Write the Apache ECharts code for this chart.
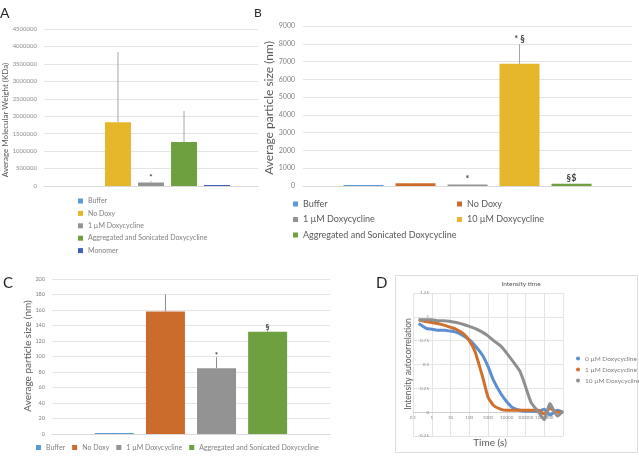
<!DOCTYPE html>
<html><head><meta charset="utf-8">
<script src="https://cdn.jsdelivr.net/npm/echarts@6.0.0/dist/echarts.min.js"></script>
<style>
html,body{margin:0;padding:0;background:#fff;width:639px;height:458px;overflow:hidden;}
.p{position:absolute;left:0;top:0;width:639px;height:458px;}
</style></head><body>
<div id="pa" class="p"></div><div id="pb" class="p"></div><div id="pc" class="p"></div><div id="pd" class="p"></div>
<script>
// ---------- DATA ----------
// Panel A
const aCategory = [''];
const aNames = ['Buffer', 'No Doxy', '1 µM Doxycycline', 'Aggregated and Sonicated Doxycycline', 'Monomer'];
const aValues = [0, 1830000, 100000, 1260000, 15000];
const aErrors = [0, 2010000, 40000, 890000, 0];
const aMarks = ['', '', '*', '', ''];
const aColors = ['#5b9bd5', '#e6b72b', '#939393', '#6ea040', '#3f5fb8'];
// Panel B
const bCategory = [''];
const bNames = ['Buffer', 'No Doxy', '1 µM Doxycycline', '10 µM Doxycycline', 'Aggregated and Sonicated Doxycycline'];
const bValues = [1, 158, 85, 6870, 132];
const bErrors = [0, 22, 14, 1110, 4];
const bMarks = ['', '', '*', '* §', '§$'];
const bColors = ['#5b9bd5', '#cc6c2c', '#939393', '#e6b72b', '#6ea040'];
// Panel C
const cCategory = [''];
const cNames = ['Buffer', 'No Doxy', '1 µM Doxycycline', 'Aggregated and Sonicated Doxycycline'];
const cValues = [1, 158, 85, 132];
const cErrors = [0.5, 22, 14, 3];
const cMarks = ['', '', '*', '§'];
const cColors = ['#5b9bd5', '#cc6c2c', '#939393', '#6ea040'];
// Panel D (time axis, log scale)
const dTime = [0.2, 0.5, 1, 2, 5, 10, 20, 50, 100, 200, 500, 1000, 2000, 5000, 10000, 20000, 50000, 100000, 200000, 500000, 1000000, 2000000, 5000000, 10000000];
const d0uM  = [0.93, 0.88, 0.87, 0.86, 0.86, 0.85, 0.84, 0.80, 0.76, 0.70, 0.60, 0.48, 0.33, 0.19, 0.11, 0.05, 0.02, 0.01, 0.01, 0.01, 0.03, -0.03, 0.02, 0.0];
const d1uM  = [0.97, 0.95, 0.94, 0.93, 0.91, 0.89, 0.87, 0.82, 0.75, 0.64, 0.38, 0.16, 0.07, 0.03, 0.02, 0.02, 0.02, 0.02, 0.02, 0.02, -0.02, 0.04, 0.0, 0.0];
const d10uM = [0.97, 0.97, 0.97, 0.96, 0.96, 0.95, 0.94, 0.92, 0.90, 0.88, 0.84, 0.80, 0.75, 0.69, 0.62, 0.54, 0.43, 0.27, 0.10, 0.0, -0.08, 0.09, -0.04, 0.01];
const dNames = ['0 µM Doxycycline', '1 µM Doxycycline', '10 µM Doxycycline'];
const dColors = ['#5b8fd0', '#d0702c', '#8f8f8f'];

// ---------- HELPERS ----------
const FONT = 'Lato';
function barSeries(names, values, colors, bw, gap) {
  return names.map((n, i) => ({
    type: 'bar', name: n, data: [values[i]], barWidth: bw, barGap: gap, barMinHeight: values[i] > 0 ? 1 : 0,
    itemStyle: { color: colors[i] }, silent: true
  }));
}
function errSeries(values, errors, marks, bw, gapFrac, o) {
  const n = values.length;
  const data = values.map((v, i) => [0, v, v + errors[i], i]);
  return {
    type: 'custom', silent: true, z: 10, data: data, encode: { x: 0, y: [1, 2] },
    renderItem: function (params, api) {
      const i = api.value(3);
      const p0 = api.coord([0, api.value(1)]);
      const p1 = api.coord([0, api.value(2)]);
      const step = bw * (1 + gapFrac);
      const x = p0[0] + (i - (n - 1) / 2) * step;
      const ch = [];
      if (errors[i] > 0) ch.push({ type: 'line', shape: { x1: x, y1: p0[1], x2: x, y2: p1[1] }, style: { stroke: o.color, lineWidth: 1 } });
      if (marks[i]) ch.push({ type: 'text', style: { text: marks[i], x: x, y: p1[1] - o.markGap, align: 'center', verticalAlign: 'bottom', fontSize: o.markSize, fontFamily: FONT, fill: '#3a3a3a', fontWeight: 'bold' } });
      return { type: 'group', children: ch };
    }
  };
}
function label(text, x, y, size) {
  return { type: 'text', x: x, y: y, style: { text: text, fontSize: size, fontFamily: FONT, fill: '#262626', align: 'left', verticalAlign: 'top' } };
}
function vtitle(text, x, y, size) {
  return { type: 'text', x: x, y: y, rotation: Math.PI / 2, style: { text: text, fontSize: size, fontFamily: FONT, fill: '#595959', align: 'center', verticalAlign: 'middle' } };
}
const num = v => String(v);

// ---------- PANEL A ----------
const chA = echarts.init(document.getElementById('pa'), null, { renderer: 'canvas' });
chA.setOption({
  animation: false, textStyle: { fontFamily: FONT },
  grid: { left: 44, top: 29, width: 214, height: 157, outerBoundsMode: 'none' },
  xAxis: { type: 'category', data: aCategory, axisLine: { lineStyle: { color: '#d9d9d9' } }, axisTick: { show: false }, axisLabel: { show: false } },
  yAxis: { type: 'value', min: 0, max: 4500000, interval: 500000, axisLine: { show: false }, axisTick: { show: false },
    axisLabel: { fontSize: 6, color: '#8c8c8c', margin: 7, formatter: num }, splitLine: { lineStyle: { color: '#e4e4e4' } } },
  legend: { orient: 'vertical', left: 73, top: 192, itemWidth: 5, itemHeight: 5, itemGap: 4.4, icon: 'rect',
    textStyle: { fontSize: 7, color: '#808080', lineHeight: 8, fontFamily: FONT }, data: aNames, selectedMode: false },
  series: barSeries(aNames, aValues, aColors, 26, '27%').concat([errSeries(aValues, aErrors, aMarks, 26, 0.27, { color: '#a6a6a6', markGap: 0, markSize: 8 })]),
  graphic: [label('A', 0, 6, 14), vtitle('Average Molecular Weight (KDa)', 5, 120, 8)]
});

// ---------- PANEL B ----------
const chB = echarts.init(document.getElementById('pb'));
chB.setOption({
  animation: false, textStyle: { fontFamily: FONT },
  grid: { left: 303, top: 26, width: 329, height: 160, outerBoundsMode: 'none' },
  xAxis: { type: 'category', data: bCategory, axisLine: { lineStyle: { color: '#d9d9d9' } }, axisTick: { show: false }, axisLabel: { show: false } },
  yAxis: { type: 'value', min: 0, max: 9000, interval: 1000, axisLine: { show: false }, axisTick: { show: false },
    axisLabel: { fontSize: 7, color: '#808080', margin: 8, formatter: num }, splitLine: { lineStyle: { color: '#e4e4e4' } } },
  legend: [
    { orient: 'vertical', left: 288, top: 194, itemWidth: 5, itemHeight: 5, itemGap: 5.5, icon: 'rect', selectedMode: false,
      textStyle: { fontSize: 9, color: '#595959', lineHeight: 10, fontFamily: FONT }, data: [bNames[0], bNames[2], bNames[4]] },
    { orient: 'vertical', left: 452, top: 194, itemWidth: 5, itemHeight: 5, itemGap: 5.5, icon: 'rect', selectedMode: false,
      textStyle: { fontSize: 9, color: '#595959', lineHeight: 10, fontFamily: FONT }, data: [bNames[1], bNames[3]] }
  ],
  series: barSeries(bNames, bValues, bColors, 40, '30%').concat([errSeries(bValues, bErrors, bMarks, 40, 0.30, { color: '#a6a6a6', markGap: 1, markSize: 9 })]),
  graphic: [label('B', 254, 7, 12), vtitle('Average particle size (nm)', 269, 108, 12)]
});

// ---------- PANEL C ----------
const chC = echarts.init(document.getElementById('pc'));
chC.setOption({
  animation: false, textStyle: { fontFamily: FONT },
  grid: { left: 52, top: 279, width: 278, height: 155, outerBoundsMode: 'none' },
  xAxis: { type: 'category', data: cCategory, axisLine: { lineStyle: { color: '#d9d9d9' } }, axisTick: { show: false }, axisLabel: { show: false } },
  yAxis: { type: 'value', min: 0, max: 200, interval: 20, axisLine: { show: false }, axisTick: { show: false },
    axisLabel: { fontSize: 5.5, color: '#808080', margin: 7, formatter: num }, splitLine: { lineStyle: { color: '#e4e4e4' } } },
  legend: { orient: 'horizontal', left: 31, top: 439, itemWidth: 5, itemHeight: 5, itemGap: 7, icon: 'rect', selectedMode: false,
    textStyle: { fontSize: 7, color: '#808080', fontFamily: FONT }, data: cNames },
  series: barSeries(cNames, cValues, cColors, 39, '31%').concat([errSeries(cValues, cErrors, cMarks, 39, 0.31, { color: '#8c8c8c', markGap: -2, markSize: 8 })]),
  graphic: [label('C', 3, 276, 15), vtitle('Average particle size (nm)', 28, 356, 10)]
});

// ---------- PANEL D ----------
const chD = echarts.init(document.getElementById('pd'));
const dSeriesVals = [d0uM, d1uM, d10uM];
chD.setOption({
  animation: false, textStyle: { fontFamily: FONT },
  grid: { left: 413, top: 293, width: 150, height: 143, outerBoundsMode: 'none' },
  xAxis: { type: 'log', logBase: 10, min: 0.1, max: 10000000, offset: -23.8,
    axisLine: { onZero: false, lineStyle: { color: '#cfcfcf' } }, axisTick: { show: false },
    axisLabel: { fontSize: 4.5, color: '#8c8c8c', margin: 3, formatter: num }, splitLine: { show: true, lineStyle: { color: '#e4e4e4' } } },
  yAxis: { type: 'value', min: -0.25, max: 1.25, interval: 0.25, offset: -19, axisLine: { show: false }, axisTick: { show: false },
    axisLabel: { fontSize: 4.5, color: '#8c8c8c', margin: 3, formatter: num }, splitLine: { lineStyle: { color: '#e4e4e4' } } },
  legend: { orient: 'vertical', left: 571, top: 350, itemWidth: 4, itemHeight: 4, itemGap: 4, icon: 'circle', selectedMode: false,
    textStyle: { fontSize: 6.5, color: '#808080', lineHeight: 7, fontFamily: FONT }, data: dNames },
  series: dNames.map((n, k) => ({
    type: 'line', name: n, symbol: 'none', smooth: 0.2, silent: true,
    lineStyle: { color: dColors[k], width: 3 }, itemStyle: { color: dColors[k] },
    data: dTime.map((t, j) => [t, dSeriesVals[k][j]])
  })),
  graphic: [
    { type: 'rect', shape: { x: 395.5, y: 275.5, width: 242, height: 177 }, style: { fill: 'none', stroke: '#dcdcdc', lineWidth: 1 }, z: -1 },
    label('D', 376, 276, 15),
    { type: 'text', x: 521, y: 284, style: { text: 'Intensity time', fontSize: 6.5, fontFamily: FONT, fill: '#595959', align: 'center', verticalAlign: 'middle' } },
    { type: 'text', x: 490, y: 443, style: { text: 'Time (s)', fontSize: 10, fontFamily: FONT, fill: '#595959', align: 'center', verticalAlign: 'middle' } },
    vtitle('Intensity autocorrelation', 408, 364, 8.5)
  ]
});
</script>
</body></html>
